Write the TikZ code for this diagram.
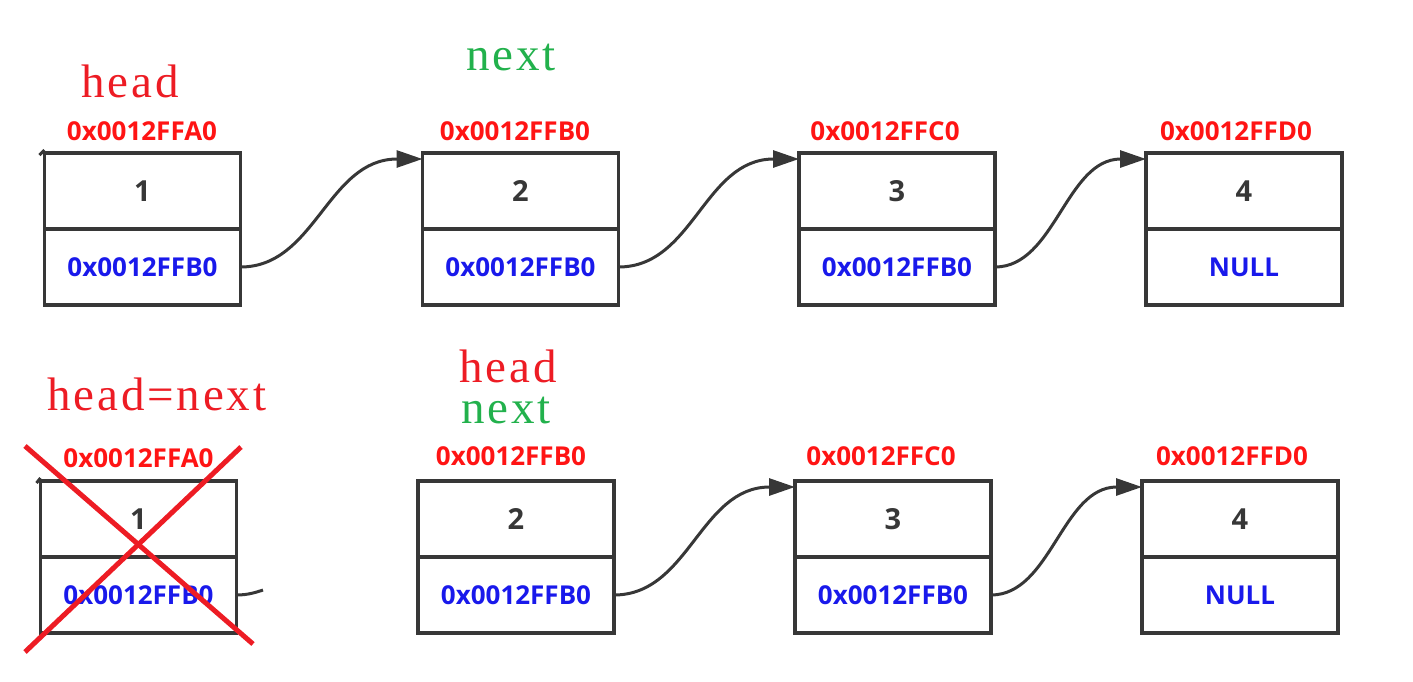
\documentclass[tikz,border=0pt]{standalone}
\usepackage{fontspec}
\setmainfont{Liberation Serif}[LetterSpace=6]
\newfontfamily\addrfont{Open Sans}
\usetikzlibrary{arrows.meta}
\definecolor{boxgray}{RGB}{55,55,55}
\definecolor{addrred}{RGB}{255,20,20}
\definecolor{ptrblue}{RGB}{25,25,235}
\definecolor{paintred}{RGB}{237,28,36}
\definecolor{paintgreen}{RGB}{34,177,76}
\tikzset{
  cell/.style={draw=boxgray, line width=3.3pt, minimum width=196pt, minimum height=76pt, inner sep=0pt, outer sep=0pt},
  numtxt/.style={font=\addrfont\bfseries\fontsize{29}{32}\selectfont, text=boxgray},
  ptrtxt/.style={font=\addrfont\bfseries\fontsize{26}{28}\selectfont, text=ptrblue},
  addr/.style={font=\addrfont\bfseries\fontsize{26}{28}\selectfont, text=addrred, inner sep=0pt},
  varred/.style={font=\fontsize{47}{50}\selectfont, text=paintred, inner sep=0pt},
  vargreen/.style={font=\fontsize{47}{50}\selectfont, text=paintgreen, inner sep=0pt},
  link/.style={draw=boxgray, line width=3pt, -{Triangle[length=26pt,width=17pt]}},
  stub/.style={draw=boxgray, line width=3pt},
  cross/.style={draw=paintred, line width=5pt}
}
\begin{document}
\begin{tikzpicture}[x=1pt,y=-1pt]
\useasboundingbox (0,0) rectangle (1413,681);
% ---------- top row ----------
\node[cell, numtxt] (t1a) at (142.5,191) {1};
\node[cell, ptrtxt] (t1b) at (142.5,267) {0x0012FFB0};
\node[cell, numtxt] (t2a) at (520.5,191) {2};
\node[cell, ptrtxt] (t2b) at (520.5,267) {0x0012FFB0};
\node[cell, numtxt] (t3a) at (897,191) {3};
\node[cell, ptrtxt] (t3b) at (897,267) {0x0012FFB0};
\node[cell, numtxt] (t4a) at (1244,191) {4};
\node[cell, ptrtxt] (t4b) at (1244,267) {NULL};
\node[addr] (ta1) at (142,131) {0x0012FFA0};
\node[addr] (ta2) at (515,131) {0x0012FFB0};
\node[addr] (ta3) at (885,131) {0x0012FFC0};
\node[addr] (ta4) at (1236,131) {0x0012FFD0};
\node[varred] (thead) at (130,81) {head};
\node[vargreen] (tnext) at (511,57) {next};
\coordinate (t2in) at ([yshift=-6pt]t2a.north west);
\coordinate (t3in) at ([yshift=-6pt]t3a.north west);
\coordinate (t4in) at ([yshift=-6pt]t4a.north west);
\draw[link] (t1b.east) .. controls +(75,0) and +(-95,0) .. (t2in);
\draw[link] (t2b.east) .. controls +(75,0) and +(-95,0) .. (t3in);
\draw[link] (t3b.east) .. controls +(60,0) and +(-80,0) .. (t4in);
\coordinate (tstub) at ([xshift=-5pt,yshift=-2pt]t1a.north west);
\draw[stub] (tstub) -- ([yshift=3pt]t1a.north west);
% ---------- bottom row ----------
\node[cell, numtxt] (b1a) at (138.5,519) {1};
\node[cell, ptrtxt] (b1b) at (138.5,595) {0x0012FFB0};
\node[cell, numtxt] (b2a) at (516,519) {2};
\node[cell, ptrtxt] (b2b) at (516,595) {0x0012FFB0};
\node[cell, numtxt] (b3a) at (893,519) {3};
\node[cell, ptrtxt] (b3b) at (893,595) {0x0012FFB0};
\node[cell, numtxt] (b4a) at (1240,519) {4};
\node[cell, ptrtxt] (b4b) at (1240,595) {NULL};
\node[addr] (ba1) at (138.5,458) {0x0012FFA0};
\node[addr] (ba2) at (511,456) {0x0012FFB0};
\node[addr] (ba3) at (881,456) {0x0012FFC0};
\node[addr] (ba4) at (1232,456) {0x0012FFD0};
\node[varred] (bheadnext) at (157,394) {head=next};
\node[varred] (bhead) at (508,366) {head};
\node[vargreen] (bnext) at (506,410) {next};
\coordinate (b3in) at ([yshift=-6pt]b3a.north west);
\coordinate (b4in) at ([yshift=-6pt]b4a.north west);
\draw[link] (b2b.east) .. controls +(75,0) and +(-95,0) .. (b3in);
\draw[link] (b3b.east) .. controls +(60,0) and +(-80,0) .. (b4in);
\coordinate (bstubL) at ([xshift=-4pt,yshift=-2pt]b1a.north west);
\draw[stub] (bstubL) -- ([yshift=3pt]b1a.north west);
\coordinate (bstubR) at (263,590);
\draw[stub] (b1b.east) .. controls +(12,0) and +(-6,2) .. (bstubR);
% red cross
\coordinate (x1s) at (25,446);
\coordinate (x1e) at (253,644);
\coordinate (x2s) at (241,447);
\coordinate (x2e) at (25,652);
\draw[cross] (x1s) -- (x1e);
\draw[cross] (x2s) -- (x2e);
\end{tikzpicture}
\end{document}
